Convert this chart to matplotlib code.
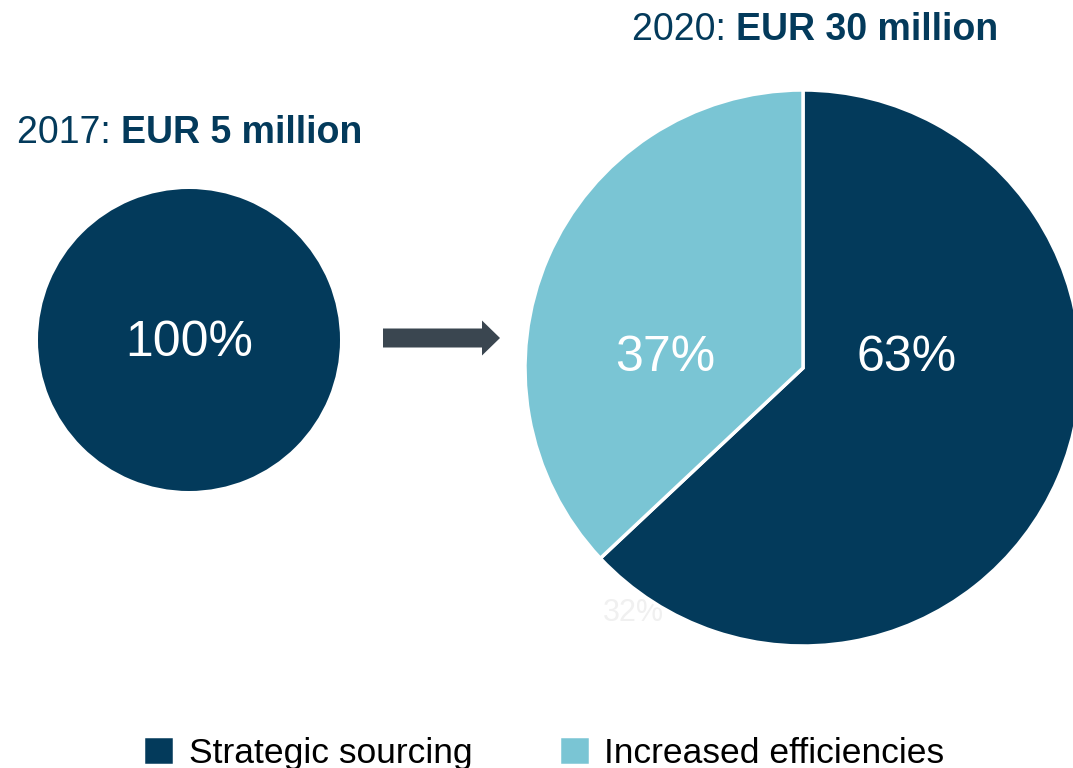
import matplotlib
matplotlib.use("Agg")
import matplotlib.pyplot as plt
from matplotlib.patches import FancyArrow

plt.rcParams['font.family'] = ['Liberation Sans', 'DejaVu Sans']

categories = ["Strategic sourcing", "Increased efficiencies"]
values_2017 = [100]
values_2020 = [63, 37]
labels_2017 = ["100%"]
labels_2020 = ["63%", "37%"]
title_years = ["2017: ", "2020: "]
title_amounts = ["EUR 5 million", "EUR 30 million"]
ghost_label = "32%"

DARK = "#033a5b"
LIGHT = "#7ac5d4"
ARROW = "#3a4650"
W, H = 1073, 768

fig = plt.figure(figsize=(W / 100, H / 100), dpi=100)
ax = fig.add_axes([0, 0, 1, 1])

# small pie (2017)
c1 = (189, H - 340)
r1 = 151
ax.pie(values_2017, colors=[DARK], center=c1, radius=r1, frame=True,
       startangle=90, counterclock=False)
ax.text(c1[0], c1[1] - 3, labels_2017[0], color="white", fontsize=36,
        ha="center", va="center")

# big pie (2020)
c2 = (803, H - 368)
r2 = 278
wedges, _ = ax.pie(values_2020, colors=[DARK, LIGHT], center=c2, radius=r2,
                   frame=True, startangle=90, counterclock=False,
                   wedgeprops=dict(edgecolor="white", linewidth=2.5))
ax.text(c2[0] + 104, c2[1] + 10, labels_2020[0], color="white", fontsize=36,
        ha="center", va="center")
ax.text(c2[0] - 138, c2[1] + 10, labels_2020[1], color="white", fontsize=36,
        ha="center", va="center")
ax.text(c2[0] - 170, c2[1] - 245, ghost_label, color="#f0f0f0", fontsize=22,
        ha="center", va="center", zorder=0)

# arrow
ax.add_patch(FancyArrow(383, H - 338, 117, 0, width=19, head_width=35,
                        head_length=18, length_includes_head=True,
                        color=ARROW, linewidth=0))

# titles
t1 = ax.text(17, H - 151, title_years[0], color=DARK, fontsize=27,
             ha="left", va="bottom")
ax.annotate(title_amounts[0], xy=(1, 0), xycoords=t1, color=DARK,
            fontsize=27, fontweight="bold", ha="left", va="bottom")
t2 = ax.text(632, H - 48, title_years[1], color=DARK, fontsize=27,
             ha="left", va="bottom")
ax.annotate(title_amounts[1], xy=(1, 0), xycoords=t2, color=DARK,
            fontsize=27, fontweight="bold", ha="left", va="bottom")

ax.set_xlim(0, W)
ax.set_ylim(0, H)
ax.set_aspect("equal")
ax.axis("off")

fig.legend(wedges, categories, loc="upper left",
           bbox_to_anchor=(143 / W, 1 - 736 / H), ncol=2, frameon=False,
           fontsize=25.5, borderpad=0, borderaxespad=0, handlelength=0.875,
           handleheight=0.875, handletextpad=0.42, columnspacing=2.43,
           labelcolor="black")

fig.savefig("out.png", dpi=100)
